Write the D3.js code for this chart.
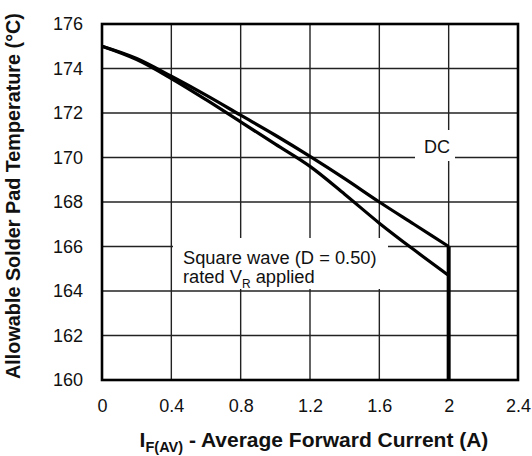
<!DOCTYPE html>
<html><head><meta charset="utf-8">
<script src="https://cdn.jsdelivr.net/npm/d3@7"></script>
<style>body{margin:0;background:#fff}svg{display:block;font-family:"Liberation Sans",Arial,sans-serif}</style>
</head><body><svg id="c" width="532" height="456"></svg>
<script>
const current = [0, 0.2, 0.4, 0.6, 0.8, 1.0, 1.2, 1.4, 1.6, 1.8, 2.0];
const dcTemp = [175, 174.45, 173.65, 172.8, 171.9, 171.0, 170.05, 169.05, 168.0, 167.0, 166.0];
const squareTemp = [175, 174.4, 173.55, 172.6, 171.6, 170.6, 169.6, 168.35, 167.05, 165.85, 164.7];
const cutoffX = [2, 2];
const cutoffY = [166, 160];
const xTicks = [0, 0.4, 0.8, 1.2, 1.6, 2, 2.4];
const yTicks = [160, 162, 164, 166, 168, 170, 172, 174, 176];

const svg = d3.select("#c");
const L = 102, R = 518, T = 24, B = 380;
const x = d3.scaleLinear().domain([0, 2.4]).range([L, R]);
const y = d3.scaleLinear().domain([160, 176]).range([B, T]);
const FF = "Liberation Sans, Arial, sans-serif";

// grid
const g = svg.append("g");
g.selectAll(".vx").data(xTicks.slice(1, -1)).join("line")
  .attr("x1", d => x(d)).attr("x2", d => x(d)).attr("y1", T).attr("y2", B)
  .attr("stroke", "#222").attr("stroke-width", 1.4);
g.selectAll(".hy").data(yTicks.slice(1, -1)).join("line")
  .attr("y1", d => y(d)).attr("y2", d => y(d)).attr("x1", L).attr("x2", R)
  .attr("stroke", "#222").attr("stroke-width", 1.4);

// axes (labels only)
const xAxis = d3.axisBottom(x).tickValues(xTicks).tickSize(0).tickPadding(19).tickFormat(d3.format("~g"));
const ax = svg.append("g").attr("transform", `translate(0,${B})`).call(xAxis);
ax.select(".domain").remove();
ax.selectAll("text").attr("font-size", 18).attr("fill", "#111").attr("font-family", FF);
const yAxis = d3.axisLeft(y).tickValues(yTicks).tickSize(0).tickPadding(19);
const ay = svg.append("g").attr("transform", `translate(${L},0)`).call(yAxis);
ay.select(".domain").remove();
ay.selectAll("text").attr("font-size", 18).attr("fill", "#111").attr("font-family", FF);

// label boxes (white, covering grid)
svg.append("rect").attr("x", 415).attr("y", 130).attr("width", 40).attr("height", 31).attr("fill", "#fff");
svg.append("rect").attr("x", 173).attr("y", 238).attr("width", 215).attr("height", 51).attr("fill", "#fff");

// frame
svg.append("rect").attr("x", L).attr("y", T).attr("width", R - L).attr("height", B - T)
  .attr("fill", "none").attr("stroke", "#000").attr("stroke-width", 2.6);

// curves
const line = d3.line().x(d => x(d[0])).y(d => y(d[1])).curve(d3.curveMonotoneX);
svg.append("path").datum(current.map((c, i) => [c, dcTemp[i]])).attr("d", line)
  .attr("fill", "none").attr("stroke", "#000").attr("stroke-width", 3.2);
svg.append("path").datum(current.map((c, i) => [c, squareTemp[i]])).attr("d", line)
  .attr("fill", "none").attr("stroke", "#000").attr("stroke-width", 3.2);
svg.append("path").datum(cutoffX.map((c, i) => [c, cutoffY[i]]))
  .attr("d", d3.line().x(d => x(d[0])).y(d => y(d[1])))
  .attr("fill", "none").attr("stroke", "#000").attr("stroke-width", 4);

// annotations
svg.append("text").attr("x", 437).attr("y", 153).attr("text-anchor", "middle")
  .attr("font-size", 18).attr("fill", "#111").text("DC");
svg.append("text").attr("x", 183).attr("y", 264).attr("font-size", 18.3).attr("fill", "#111")
  .text("Square wave (D = 0.50)");
const t2 = svg.append("text").attr("x", 183).attr("y", 283).attr("font-size", 18.3).attr("fill", "#111");
t2.append("tspan").text("rated V");
t2.append("tspan").attr("font-size", 12).attr("dy", 5).text("R");
t2.append("tspan").attr("dy", -5).text(" applied");

// axis titles
const xt = svg.append("text").attr("x", 314).attr("y", 447).attr("text-anchor", "middle")
  .attr("font-size", 21).attr("font-weight", "bold").attr("fill", "#111");
xt.append("tspan").text("I");
xt.append("tspan").attr("font-size", 14.5).attr("dy", 5).text("F(AV)");
xt.append("tspan").attr("dy", -5).text(" - Average Forward Current (A)");

svg.append("text").attr("transform", `translate(19.5,196) rotate(-90)`)
  .attr("text-anchor", "middle").attr("font-size", 19.8).attr("font-weight", "bold").attr("fill", "#111")
  .text("Allowable Solder Pad Temperature (°C)");
</script></body></html>
